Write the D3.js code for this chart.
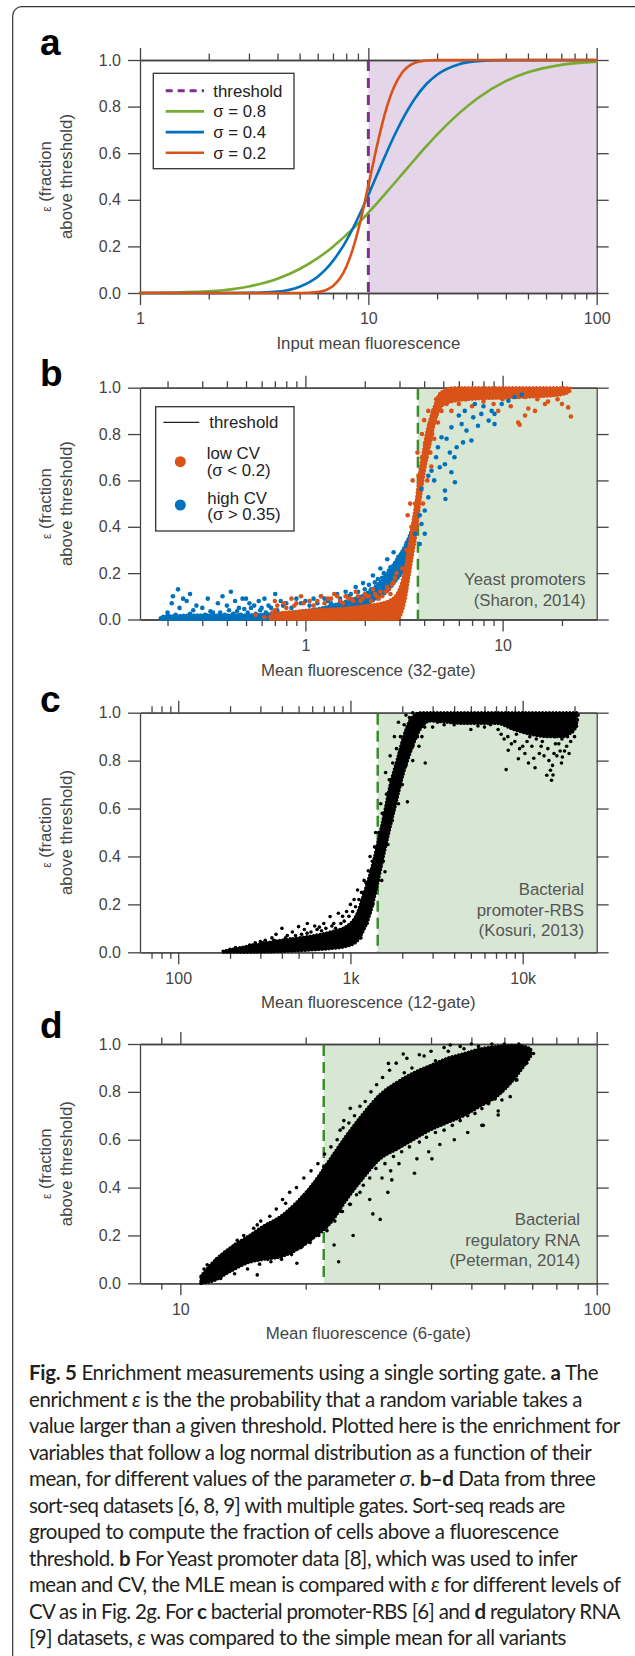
<!DOCTYPE html>
<html>
<head>
<meta charset="utf-8">
<script src="https://cdn.jsdelivr.net/npm/d3@7"></script>
<style>
  body { margin: 0; background: #fff; }
</style>
</head>
<body>
<svg id="fig" width="635" height="1656"></svg>
<script>
// ---- data ----
var yTicks = [0, 0.2, 0.4, 0.6, 0.8, 1.0];

// panel a: enrichment curves
var aX       = [1, 1.5, 2, 3, 4, 5, 6, 6.5, 7, 7.5, 8, 8.5, 9, 9.5, 10, 10.5, 11, 12, 13, 14, 16, 18, 20, 25, 30, 40, 50, 70, 100];
var aSigma08 = [0.0005, 0.003, 0.007, 0.028, 0.061, 0.103, 0.15, 0.174, 0.199, 0.224, 0.249, 0.273, 0.298, 0.321, 0.345, 0.367, 0.389, 0.432, 0.471, 0.508, 0.574, 0.631, 0.68, 0.772, 0.835, 0.909, 0.947, 0.979, 0.993];
var aSigma04 = [0, 0, 0, 0.001, 0.006, 0.027, 0.07, 0.101, 0.138, 0.179, 0.224, 0.272, 0.322, 0.371, 0.421, 0.469, 0.515, 0.601, 0.676, 0.739, 0.835, 0.898, 0.937, 0.982, 0.995, 1, 1, 1, 1];
var aSigma02 = [0, 0, 0, 0, 0, 0, 0.004, 0.012, 0.03, 0.062, 0.112, 0.181, 0.265, 0.361, 0.46, 0.557, 0.647, 0.792, 0.887, 0.943, 0.988, 0.998, 1, 1, 1, 1, 1, 1, 1];
var aThreshold = 10;
var aXMajor = [1, 10, 100];
var aXMinor = [2, 3, 4, 5, 6, 7, 8, 9, 20, 30, 40, 50, 60, 70, 80, 90];
var aXLabels = ["1", "10", "100"];
var aLegend = ["threshold", "\u03c3 = 0.8", "\u03c3 = 0.4", "\u03c3 = 0.2"];

// panel b: yeast promoters, [x, lo, hi] for the dense core, [x, eps] for single points
var bThreshold = 3.72;
var bXMajor = [1, 10];
var bXMinor = [0.2, 0.3, 0.4, 0.5, 0.6, 0.7, 0.8, 0.9, 2, 3, 4, 5, 6, 7, 8, 9, 20];
var bXLabels = ["1", "10"];
var bOrangeBand = [[0.66,0,0.015],[0.75,0,0.03],[0.9,0,0.035],[1.0,0,0.04],[1.3,0,0.045],[1.6,0,0.05],[2.0,0,0.06],[2.4,0,0.07],[2.7,0,0.085],[2.85,0,0.1],[2.95,0,0.12],[3.05,0.02,0.15],[3.2,0.08,0.22],[3.35,0.18,0.32],[3.5,0.28,0.42],[3.65,0.37,0.52],[3.8,0.5,0.64],[3.95,0.6,0.72],[4.1,0.68,0.8],[4.3,0.76,0.87],[4.5,0.84,0.92],[4.75,0.9,0.97],[5.1,0.93,0.99],[5.6,0.94,1.0],[7,0.95,1.0],[10,0.955,1.0],[14,0.96,1.0],[18,0.965,1.0],[21,0.975,1.0],[22,0.985,1.0]];
var bBlueBand = [[0.19,0,0.015],[0.3,0,0.02],[0.45,0,0.02],[0.65,0,0.025],[0.9,0.005,0.035],[1.2,0.01,0.05],[1.6,0.03,0.08],[2.0,0.06,0.11],[2.3,0.09,0.15],[2.6,0.12,0.2],[2.9,0.17,0.26],[3.2,0.22,0.32],[3.5,0.3,0.4]];
var bOrangePts = [[0.56,0.02],[0.62,0.01],[0.68,0.03],[0.7,0.08],[0.72,0.06],[0.8,0.05],[0.85,0.09],[0.9,0.07],[0.95,0.1],[1.05,0.08],[1.1,0.06],[1.2,0.1],[1.3,0.09],[1.4,0.11],[1.5,0.08],[1.6,0.1],[1.7,0.09],[1.8,0.12],[1.9,0.08],[2.0,0.11],[2.1,0.1],[2.2,0.13],[2.3,0.1],[2.4,0.12],[2.6,0.14],[2.7,0.11],[2.8,0.16],
  [0.7,0.04],[0.78,0.07],[0.88,0.06],[0.98,0.07],[1.15,0.08],[1.25,0.07],[1.35,0.09],[1.45,0.1],[1.55,0.07],[1.65,0.09],[1.75,0.08],[1.85,0.1],[1.95,0.09],[2.05,0.1],[2.15,0.08],[2.25,0.11],[2.35,0.09],[2.45,0.1],[2.55,0.12],[2.65,0.13],[2.75,0.15],[2.85,0.18],[2.9,0.2],
  [3.1,0.22],[3.25,0.3],[3.45,0.4],[3.6,0.5],[3.75,0.62],[3.9,0.7],[4.05,0.76],[4.25,0.84],[4.45,0.9],[4.3,0.72],[4.5,0.78],[4.7,0.85],[4.9,0.9],[5.2,0.93],[4.15,0.6],[4.35,0.66],[3.95,0.5],[4.6,0.95],
  [3.3,0.45],[3.4,0.5],[3.5,0.6],[3.7,0.72],[3.9,0.8],[4.0,0.86],[4.2,0.9],[3.8,0.6],[4.1,0.7],[4.4,0.8],[4.6,0.88],
  [5.5,0.9],[6,0.93],[6.5,0.95],[7,0.92],[7.5,0.96],[8,0.94],[9,0.93],[9.5,0.9],[10,0.95],[11,0.92],[12,0.96],[12.2,0.84],[12,0.85],[13,0.88],[13.5,0.91],[14.6,0.9],[15,0.95],[16.4,0.93],[17,0.94],[18,0.97],[19,0.95],[20,0.93],[21.5,0.915],[22.2,0.876],[21,0.98],
  [5.3,0.96],[5.8,0.97],[6.2,0.96],[6.8,0.97],[7.2,0.98],[8.5,0.96],[9.2,0.97],[10.5,0.97],[11.5,0.96],[13,0.96],[14,0.97],[16,0.98]];
var bBluePts = [[0.19,0.01],[0.2,0.03],[0.21,0.07],[0.213,0.1],[0.226,0.13],[0.23,0.05],[0.24,0.09],[0.25,0.08],[0.26,0.11],[0.27,0.04],[0.28,0.06],[0.3,0.05],[0.32,0.09],[0.34,0.03],[0.36,0.07],[0.38,0.1],[0.4,0.06],[0.419,0.12],[0.44,0.08],[0.46,0.05],[0.48,0.09],[0.5,0.09],[0.52,0.07],[0.55,0.06],[0.58,0.08],[0.6,0.05],[0.62,0.09],[0.65,0.06],[0.703,0.11],[0.75,0.08],[0.8,0.07],[0.9,0.09],[1.0,0.08],[1.1,0.09],[1.2,0.1],[1.3,0.08],[1.45,0.11],[1.6,0.12],[1.7,0.11],[1.8,0.14],[1.96,0.157],[2.1,0.15],[2.2,0.19],[2.33,0.175],[2.4,0.22],[2.5,0.2],[2.6,0.26],[2.7,0.225],[2.8,0.29],[2.96,0.27],[3.07,0.27],[3.26,0.297],[3.26,0.33],[3.45,0.355],[3.6,0.37],[3.8,0.326],
  [0.185,0.005],[0.2,0.015],[0.22,0.02],[0.24,0.01],[0.26,0.025],[0.29,0.015],[0.31,0.02],[0.33,0.035],[0.35,0.015],[0.37,0.03],[0.39,0.02],[0.41,0.04],[0.43,0.025],[0.45,0.035],[0.47,0.02],[0.49,0.045],[0.51,0.03],[0.53,0.05],[0.56,0.025],[0.59,0.04],[0.63,0.03],[0.67,0.05],[0.72,0.04],[0.77,0.06],[0.85,0.05],[0.95,0.07],[1.05,0.06],[1.15,0.07],[1.25,0.09],[1.35,0.07],[1.5,0.09],[1.65,0.1],[1.75,0.085],[1.85,0.12],[2.0,0.13],[2.05,0.11],[2.15,0.13],[2.25,0.16],[2.35,0.14],[2.45,0.18],[2.55,0.16],[2.65,0.21],[2.75,0.19],[2.85,0.24],[3.0,0.22],[3.1,0.27],[3.2,0.25],[3.3,0.3],[3.4,0.28],
  [3.88,0.563],[4.36,0.642],[5.1,0.556],[5.13,0.52],[5.73,0.592],[5.5,0.635],[5.4,0.72],[5.7,0.7],[4.7,0.743],[4.9,0.786],[5.5,0.829],[6.2,0.843],[6.3,0.764],[6.95,0.772],[7.1,0.872],[7.8,0.887],[8.5,0.858],[9.1,0.843],[8.8,0.9],[9.9,0.93],[10.7,0.944],[4.03,0.47],[3.88,0.412],[4.03,0.37],[4.2,0.527],[4.5,0.6],[4.8,0.657],[5.1,0.67],[5.85,0.743],[6.56,0.815],[7.5,0.836],[6.43,0.9],[7.23,0.93],[9.1,0.887],[3.6,0.37],[3.8,0.45],[4.2,0.62],[4.6,0.7],[5.2,0.78],[6,0.88],[8,0.92],[11.5,0.96],[12.5,0.97]];

// panel c: bacterial promoter-RBS
var cThreshold = 1440;
var cXMajor = [100, 1000, 10000];
var cXMinor = [70, 80, 90, 200, 300, 400, 500, 600, 700, 800, 900, 2000, 3000, 4000, 5000, 6000, 7000, 8000, 9000, 20000];
var cXLabels = ["100", "1k", "10k"];
var cBand = [[182,0,0.005],[250,0,0.025],[391,0.003,0.05],[610,0.01,0.07],[762,0.015,0.085],[953,0.025,0.11],[1089,0.045,0.16],[1190,0.09,0.24],[1301,0.16,0.33],[1422,0.27,0.44],[1555,0.4,0.565],[1700,0.52,0.7],[1858,0.635,0.8],[2031,0.746,0.9],[2221,0.83,0.97],[2538,0.93,1.0],[2901,0.965,1.0],[4527,0.955,1.0],[7074,0.955,1.0],[8836,0.93,1.0],[11040,0.91,1.0],[13790,0.9,1.0],[17230,0.9,1.0],[20600,0.94,1.0]];
var cPts = [[200,0.012],[215,0.02],[230,0.01],[260,0.03],[280,0.04],[300,0.045],[320,0.05],[350,0.06],[370,0.075],[400,0.1],[430,0.07],[460,0.085],[500,0.107],[540,0.095],[562,0.12],[620,0.11],[660,0.105],[700,0.12],[762,0.149],[800,0.12],[851,0.163],[900,0.15],[950,0.17],[1000,0.2],[1050,0.22],[1100,0.26],[1138,0.1],
  [190,0.005],[210,0.008],[240,0.02],[270,0.03],[290,0.025],[310,0.04],[330,0.035],[360,0.05],[380,0.045],[420,0.06],[450,0.055],[480,0.07],[520,0.075],[560,0.08],[590,0.085],[640,0.095],[680,0.09],[720,0.1],[780,0.11],[820,0.1],[880,0.12],[920,0.13],[980,0.15],[1030,0.17],[1070,0.19],[1120,0.22],[1160,0.25],[1230,0.29],[1270,0.34],[1340,0.38],[1380,0.44],[1460,0.5],[1530,0.58],[1620,0.66],[1680,0.72],[1760,0.79],[1850,0.85],[1950,0.9],[2050,0.95],[2200,0.98],
  [1150,0.06],[1250,0.12],[1350,0.2],[1450,0.3],[1550,0.38],[1650,0.5],[1780,0.6],[1950,0.7],[2100,0.78],[2300,0.86],[2450,0.9],[2700,0.94],[3200,0.96],[4000,0.95],[5500,0.945],[6500,0.95],
  [1587,0.336],[1520,0.3],[1480,0.36],[1650,0.45],[1750,0.55],[1900,0.62],[2142,0.628],[2000,0.7],[2300,0.8],[2718,0.79],[2500,0.86],[2600,0.9],[3000,0.94],[3500,0.95],
  [1200,0.3],[1300,0.4],[1400,0.5],[1500,0.62],[1600,0.75],[1700,0.82],[1800,0.9],[1900,0.96],[2100,0.99],[2300,1.0],
  [8017,0.7625],[9440,0.808],[10800,0.79],[11800,0.77],[13800,0.739],[14700,0.718],[15000,0.74],[14500,0.76],[8240,0.843],[17000,0.815],[16500,0.84],[12500,0.83],[10000,0.86],[9000,0.88],[7500,0.91],[11000,0.9],[13000,0.88],[15500,0.87],[18000,0.86],[19000,0.88],[6000,0.94],[5000,0.93],[4500,0.96],[20000,0.9],
  [7200,0.93],[7800,0.89],[8200,0.9],[8600,0.87],[9200,0.91],[9600,0.85],[10300,0.83],[10600,0.88],[11300,0.86],[11600,0.81],[12000,0.89],[12800,0.86],[13300,0.82],[14000,0.85],[14200,0.8],[14900,0.78],[15200,0.83],[15800,0.82],[16200,0.87],[16800,0.79],[17500,0.84],[18200,0.9],[18600,0.83],[19500,0.92],[20300,0.95],[20800,0.97],[21000,0.99],[9800,0.93],[11800,0.92],[13600,0.91],[15400,0.9],[16900,0.89]];

// panel d: bacterial regulatory RNA
var dThreshold = 22.1;
var dXMajor = [10, 100];
var dXMinor = [9, 20, 30, 40, 50, 60, 70, 80, 90];
var dXLabels = ["10", "100"];
var dBand = [[11.2,0,0.03],[12,0.01,0.09],[13.2,0.05,0.15],[14.5,0.085,0.195],[15.85,0.1,0.24],[17.4,0.11,0.28],[19.05,0.14,0.34],[20.9,0.19,0.42],[22.9,0.25,0.52],[25.1,0.35,0.62],[27.5,0.44,0.71],[30.2,0.52,0.79],[33.1,0.56,0.84],[36.3,0.6,0.88],[39.8,0.64,0.91],[43.65,0.67,0.94],[47.9,0.7,0.96],[52.5,0.74,0.98],[57.5,0.78,0.99],[63.1,0.85,0.995],[67,0.91,0.99],[69.5,0.95,0.98]];
var dPts = [[11.2,0],[11.3,0.03],[11.4,0.06],[11.6,0.077],[11.9,0.014],[12.1,0.015],[12.5,0.1],[12.64,0.067],[13.2,0.13],[13.7,0.18],[14,0.08],[14.4,0.17],[14.8,0.12],[15.3,0.035],[15.3,0.244],[15.8,0.21],[16.2,0.1],[16.8,0.24],[17.4,0.13],[17.9,0.334],[18,0.27],[18.5,0.12],[19.05,0.084],[19.3,0.3],[20,0.18],[20.5,0.36],[21,0.22],[21.8,0.42],[22.1,0.487],[22.4,0.25],[23.4,0.16],[23.6,0.5],[24.2,0.64],[24.3,0.3],[24.7,0.68],[25,0.56],[25.6,0.731],[25.6,0.33],[26.5,0.62],[27,0.38],[28,0.68],[28.5,0.35],[29.5,0.72],[30.2,0.267],[30.5,0.44],[31,0.78],[31.6,0.919],[32,0.47],[32.2,0.432],[33,0.8],[33.5,0.5],[34.3,0.958],[34.5,0.88],[36,0.9],[37,0.52],[38.5,0.95],[39.5,0.55],[40.2,0.52],[41,0.93],[42,0.58],[44,0.97],[44.5,0.996],[45.5,0.6],[48,0.98],[49,0.63],[52,0.99],[53,0.66],[53.4,0.66],[56,1.0],[58,0.703],[58,0.72],[59.2,0.766],[62,0.78],[64,0.85],[64.3,0.85],[67,0.93],[67.9,0.92],[69.2,0.964],[70.5,0.96],[24,0.09],[29,0.29],[31.5,0.38],[36.5,0.46],[26,0.2],[35,0.62],[40,0.7],[46,0.75],[55,0.8],
  [11.5,0.05],[12.2,0.1],[12.8,0.13],[13.5,0.16],[14.2,0.2],[15,0.23],[15.6,0.26],[16.4,0.28],[17,0.31],[17.6,0.35],[18.3,0.38],[19,0.4],[19.8,0.44],[20.6,0.47],[21.4,0.5],[22.2,0.54],[23,0.57],[23.8,0.6],[24.6,0.65],[25.4,0.67],[26.2,0.7],[27,0.74],[27.8,0.76],[28.7,0.8],[29.6,0.83],[30.6,0.86],[31.8,0.89],[33,0.92],[35,0.94],[37.5,0.955],[40,0.97],[43,0.985],[47,0.99],[50,1.0],[60,1.0],[65,1.0],
  [12.5,0.02],[13.5,0.04],[14.5,0.06],[15.5,0.08],[16.5,0.09],[17.5,0.1],[18.5,0.13],[19.5,0.15],[20.5,0.17],[21.5,0.2],[22.5,0.22],[23.5,0.26],[24.5,0.3],[25.5,0.33],[26.5,0.37],[27.5,0.41],[28.5,0.44],[29.5,0.48],[31,0.5],[32.5,0.53],[34,0.55],[35.5,0.57],[37.5,0.59],[39,0.61],[41,0.63],[43,0.64],[45,0.66],[47,0.68],[49,0.7],[51,0.71],[53,0.73],[55,0.75],[57,0.77],[59,0.8],[61,0.83],[63,0.86],[65,0.89],[67,0.92],[68.5,0.95]];

// caption, one entry per line: [text, style] with b = bold, i = italic
var captionLines = [
  [["Fig. 5", "b"], [" Enrichment measurements using a single sorting gate. ", ""], ["a", "b"], [" The", ""]],
  [["enrichment ", ""], ["\u03b5", "i"], [" is the the probability that a random variable takes a", ""]],
  [["value larger than a given threshold. Plotted here is the enrichment for", ""]],
  [["variables that follow a log normal distribution as a function of their", ""]],
  [["mean, for different values of the parameter ", ""], ["\u03c3", "i"], [". ", ""], ["b\u2013d", "b"], [" Data from three", ""]],
  [["sort-seq datasets [6, 8, 9] with multiple gates. Sort-seq reads are", ""]],
  [["grouped to compute the fraction of cells above a fluorescence", ""]],
  [["threshold. ", ""], ["b", "b"], [" For Yeast promoter data [8], which was used to infer", ""]],
  [["mean and CV, the MLE mean is compared with ", ""], ["\u03b5", "i"], [" for different levels of", ""]],
  [["CV as in Fig. 2g. For ", ""], ["c", "b"], [" bacterial promoter-RBS [6] and ", ""], ["d", "b"], [" regulatory RNA", ""]],
  [["[9] datasets, ", ""], ["\u03b5", "i"], [" was compared to the simple mean for all variants", ""]]
];
var captionEnds = [598.6, 582, 619, 592, 594.6, 565, 559, 577, 619.7, 619.7, 566];

// ---- drawing ----
var FONT = '"Liberation Sans", Arial, Helvetica, sans-serif';
var AXIS = "#444";
var L = 140, R = 596.7;
var purple = "#7E2F8E", green = "#77AC30", blue = "#0072BD", orange = "#D95319";
var dashGreen = "#3b8c2e";

var svg = d3.select("#fig");
svg.append("rect").attr("width", 635).attr("height", 1656).attr("fill", "#fff");
svg.append("rect")
  .attr("x", 12.7).attr("y", 6.7).attr("width", 640).attr("height", 1700)
  .attr("rx", 9).attr("fill", "none").attr("stroke", "#333").attr("stroke-width", 1.2);

function drawPanel(p) {
  var x = d3.scaleLog().domain(p.dom).range([L, R]);
  var y = d3.scaleLinear().domain([0, 1]).range([p.bottom, p.top]);
  var g = svg.append("g");

  g.append("rect")
    .attr("x", x(p.thr)).attr("y", p.top)
    .attr("width", R - x(p.thr)).attr("height", p.bottom - p.top)
    .attr("fill", p.shade);

  var ax = g.append("g");
  ax.append("g").attr("transform", "translate(" + L + ",0)")
    .call(d3.axisLeft(y).tickValues(yTicks).tickSize(12).tickSizeOuter(0).tickPadding(7).tickFormat(d3.format(".1f")));
  ax.append("g").attr("transform", "translate(" + R + ",0)")
    .call(d3.axisRight(y).tickValues(yTicks).tickSize(12).tickSizeOuter(0).tickFormat(""));
  ax.append("g").attr("transform", "translate(0," + p.top + ")")
    .call(d3.axisTop(x).tickValues(p.major).tickSize(12).tickSizeOuter(0).tickFormat(""));
  ax.append("g").attr("transform", "translate(0," + p.top + ")")
    .call(d3.axisTop(x).tickValues(p.minor).tickSize(6.5).tickSizeOuter(0).tickFormat(""));
  ax.append("g").attr("transform", "translate(0," + p.bottom + ")")
    .call(d3.axisBottom(x).tickValues(p.major).tickSize(12).tickSizeOuter(0).tickPadding(8)
      .tickFormat(function(d, i) { return p.labels[i]; }));
  ax.append("g").attr("transform", "translate(0," + p.bottom + ")")
    .call(d3.axisBottom(x).tickValues(p.minor).tickSize(6.5).tickSizeOuter(0).tickFormat(""));
  ax.selectAll("path, line").attr("stroke", AXIS).attr("stroke-width", 1.3);
  ax.selectAll("text").attr("fill", AXIS).style("font-size", "16px").style("font-family", FONT);

  g.append("line")
    .attr("x1", x(p.thr)).attr("x2", x(p.thr))
    .attr("y1", p.top + 1).attr("y2", p.bottom)
    .attr("stroke", p.thrColor).attr("stroke-width", p.thrWidth)
    .attr("stroke-dasharray", p.thrDash);

  // panel letter
  svg.append("text").attr("x", 40).attr("y", p.letterY)
    .attr("font-family", FONT).attr("font-weight", "bold").attr("font-size", 37)
    .attr("fill", "#000").text(p.letter);

  // axis titles
  svg.append("text").attr("x", (L + R) / 2).attr("y", p.bottom + 56)
    .attr("text-anchor", "middle").attr("font-family", FONT).attr("font-size", 16.8)
    .attr("fill", AXIS).text(p.xTitle);
  var yt = svg.append("g").attr("transform", "translate(0," + (p.top + p.bottom) / 2 + ")");
  var t1 = yt.append("text").attr("transform", "translate(51,0) rotate(-90)")
    .attr("text-anchor", "middle").attr("font-family", FONT).attr("font-size", 16.8).attr("fill", AXIS);
  t1.append("tspan").attr("font-size", 12).text("\u03b5");
  t1.append("tspan").text(" (fraction");
  yt.append("text").attr("transform", "translate(72,0) rotate(-90)")
    .attr("text-anchor", "middle").attr("font-family", FONT).attr("font-size", 16.8)
    .attr("fill", AXIS).text("above threshold)");

  // annotation
  if (p.note) {
    p.note.forEach(function(s, i) {
      svg.append("text").attr("x", p.noteX).attr("y", p.noteY + i * 20.6)
        .attr("text-anchor", "end").attr("font-family", FONT).attr("font-size", 16.8)
        .attr("fill", "#555").text(s);
    });
  }
  return { x: x, y: y, g: g };
}

// dense core of a point cloud: filled band with a scalloped rim
function band(P, data, color) {
  var area = d3.area()
    .x(function(d) { return P.x(d[0]); })
    .y0(function(d) { return P.y(d[1]); })
    .y1(function(d) { return P.y(d[2]); })
    .curve(d3.curveMonotoneX);
  P.g.append("path").attr("d", area(data))
    .attr("fill", color).attr("stroke", color).attr("stroke-width", 1.5).attr("stroke-linejoin", "round");
  P.g.append("path").attr("d", area(data))
    .attr("fill", "none").attr("stroke", color).attr("stroke-width", 3.2)
    .attr("stroke-linecap", "round").attr("stroke-dasharray", "0,3.4");
}
function dots(P, data, color, r) {
  P.g.append("g").selectAll("circle").data(data).enter().append("circle")
    .attr("cx", function(d) { return P.x(d[0]); })
    .attr("cy", function(d) { return P.y(d[1]); })
    .attr("r", r).attr("fill", color);
}

// ---- panel a ----
var A = drawPanel({ letter: "a", letterY: 55, top: 60, bottom: 293, dom: [1, 100],
  major: aXMajor, minor: aXMinor, labels: aXLabels, thr: aThreshold, shade: "#e5d5e8",
  thrColor: purple, thrWidth: 3, thrDash: "10,7", xTitle: "Input mean fluorescence" });
var aLine = function(vals) {
  return d3.line().x(function(d) { return A.x(d); }).y(function(d, i) { return A.y(vals[i]); })
    .curve(d3.curveMonotoneX)(aX);
};
[[aSigma08, green], [aSigma04, blue], [aSigma02, orange]].forEach(function(s) {
  A.g.append("path").attr("d", aLine(s[0])).attr("fill", "none")
    .attr("stroke", s[1]).attr("stroke-width", 2.6).attr("stroke-linecap", "round");
});
// legend a
var la = svg.append("g");
la.append("rect").attr("x", 153.3).attr("y", 73.3).attr("width", 140.7).attr("height", 95.4)
  .attr("fill", "#fff").attr("stroke", "#333").attr("stroke-width", 1.3);
var laCol = [purple, green, blue, orange];
aLegend.forEach(function(s, i) {
  var yy = 90.7 + i * 20.7;
  la.append("line").attr("x1", 165.7).attr("x2", 204).attr("y1", yy).attr("y2", yy)
    .attr("stroke", laCol[i]).attr("stroke-width", i === 0 ? 3 : 2.6)
    .attr("stroke-dasharray", i === 0 ? "7,5" : null);
  la.append("text").attr("x", 213.3).attr("y", yy).attr("dy", "0.36em")
    .attr("font-family", FONT).attr("font-size", 16.8).attr("fill", "#222").text(s);
});

// ---- panel b ----
var B = drawPanel({ letter: "b", letterY: 386, top: 387.7, bottom: 619.5, dom: [0.145, 30],
  major: bXMajor, minor: bXMinor, labels: bXLabels, thr: bThreshold, shade: "#d7e7d3",
  thrColor: dashGreen, thrWidth: 2.5, thrDash: "11,6", xTitle: "Mean fluorescence (32-gate)",
  note: ["Yeast promoters", "(Sharon, 2014)"], noteX: 585.7, noteY: 585 });
band(B, bBlueBand, blue);
dots(B, bBluePts.slice(0, 105), blue, 2.3);
band(B, bOrangeBand, orange);
dots(B, bOrangePts, orange, 2.3);
dots(B, bBluePts.slice(105), blue, 2.3);
var lb = svg.append("g");
lb.append("rect").attr("x", 155.7).attr("y", 406.7).attr("width", 138.3).attr("height", 124.3)
  .attr("fill", "#fff").attr("stroke", "#333").attr("stroke-width", 1.3);
lb.append("line").attr("x1", 163.3).attr("x2", 199.3).attr("y1", 422.3).attr("y2", 422.3)
  .attr("stroke", "#222").attr("stroke-width", 1.3);
[["threshold", 209.3, 422.3], ["low CV", 206.7, 453.3], ["(\u03c3 < 0.2)", 206.7, 470],
 ["high CV", 207.3, 497.7], ["(\u03c3 > 0.35)", 207.3, 514]].forEach(function(t) {
  lb.append("text").attr("x", t[1]).attr("y", t[2]).attr("dy", "0.36em")
    .attr("font-family", FONT).attr("font-size", 16.8).attr("fill", "#222").text(t[0]);
});
lb.append("circle").attr("cx", 180.3).attr("cy", 461.7).attr("r", 5.5).attr("fill", orange);
lb.append("circle").attr("cx", 180.3).attr("cy", 505).attr("r", 5.5).attr("fill", blue);

// ---- panel c ----
var C = drawPanel({ letter: "c", letterY: 712, top: 712.7, bottom: 952.3, dom: [60, 26900],
  major: cXMajor, minor: cXMinor, labels: cXLabels, thr: cThreshold, shade: "#d7e7d3",
  thrColor: dashGreen, thrWidth: 2.5, thrDash: "11,6", xTitle: "Mean fluorescence (12-gate)",
  note: ["Bacterial", "promoter-RBS", "(Kosuri, 2013)"], noteX: 584, noteY: 895 });
band(C, cBand, "#000");
dots(C, cPts, "#000", 1.8);

// ---- panel d ----
var D = drawPanel({ letter: "d", letterY: 1038, top: 1044, bottom: 1283.3, dom: [8, 100],
  major: dXMajor, minor: dXMinor, labels: dXLabels, thr: dThreshold, shade: "#d7e7d3",
  thrColor: dashGreen, thrWidth: 2.5, thrDash: "11,6", xTitle: "Mean fluorescence (6-gate)",
  note: ["Bacterial", "regulatory RNA", "(Peterman, 2014)"], noteX: 580, noteY: 1225 });
band(D, dBand, "#000");
dots(D, dPts, "#000", 1.8);

// ---- caption: widths matched line by line with letter spacing ----
var cap = svg.append("g");
captionLines.forEach(function(line, i) {
  var t = cap.append("text").attr("x", 29).attr("y", 1380 + i * 26.5)
    .attr("font-family", "Lato, 'Open Sans', sans-serif").attr("font-size", 20.5).attr("fill", "#231f20");
  line.forEach(function(seg) {
    var sp = t.append("tspan").text(seg[0]);
    if (seg[1] === "b") sp.attr("font-weight", "bold");
    if (seg[1] === "i") sp.attr("font-style", "italic");
  });
  var natural = t.node().getComputedTextLength();
  var n = t.text().length;
  t.attr("letter-spacing", ((captionEnds[i] - 29) - natural) / n);
});
</script>
</body>
</html>
